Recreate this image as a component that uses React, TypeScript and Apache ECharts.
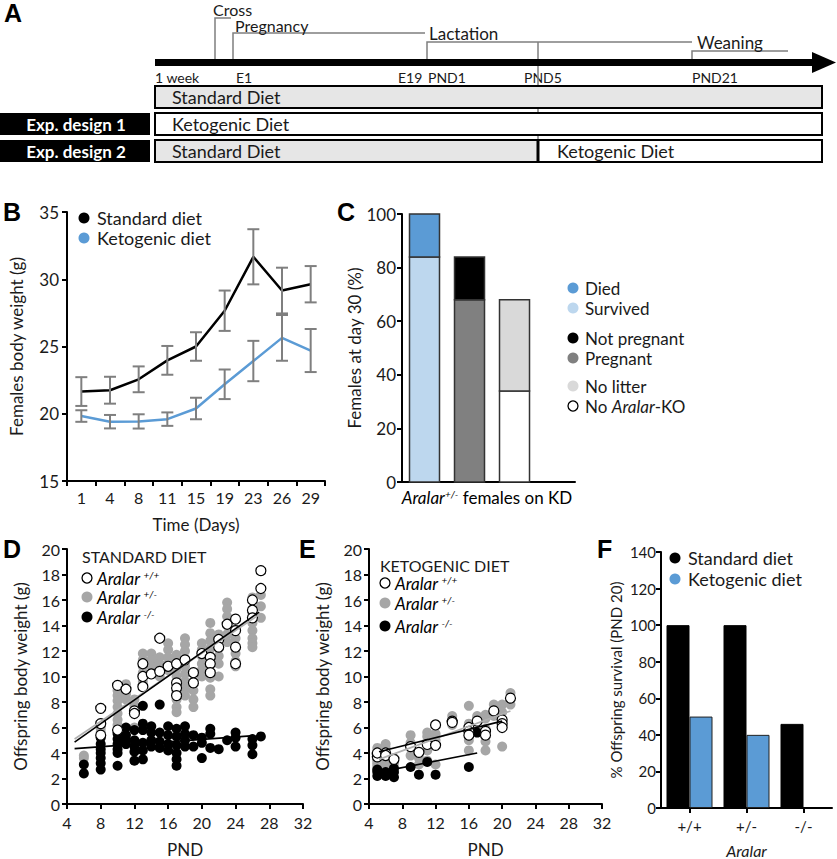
import React, { useEffect, useRef } from 'react';
import * as echarts from 'echarts';

// ---------- Panel B: female body weight ----------
const bDays = ['1', '4', '8', '11', '15', '19', '23', '26', '29'];
const bStdMean = [21.65, 21.75, 22.56, 23.97, 25.0, 27.66, 31.67, 29.16, 29.63];
const bStdErr = [1.07, 1.0, 0.96, 1.07, 1.06, 1.5, 2.05, 1.7, 1.35];
const bKdMean = [19.83, 19.41, 19.43, 19.6, 20.39, 22.19, 23.92, 25.64, 24.7];
const bKdErr = [0.43, 0.5, 0.53, 0.5, 0.8, 1.1, 1.5, 1.7, 1.6];

// ---------- Panel C: females at day 30 ----------
const cPositions = [0.5, 1.5, 2.5];
const cLower = [84, 68, 34]; // Survived, Pregnant, No Aralar-KO
const cUpper = [16, 16, 34]; // Died, Not pregnant, No litter

// ---------- Panel D: standard diet offspring ----------
const dWtDays = [8, 10, 11, 12, 13, 14, 15, 16, 17, 18, 19, 20, 21, 22, 23, 24, 26, 27];
const dWtWeights = [
  [7.5, 6.3, 5.4], [9.3, 5.8], [9.0], [7.3, 7.1], [11.0, 10.0, 9.2], [10.2], [13.0, 10.4], [10.8],
  [11.0, 9.5, 9.1, 8.5], [11.3], [10.3, 9.5], [11.8], [11.5, 11.0, 10.3], [12.9, 12.3], [14.1],
  [14.5, 13.6, 12.3, 11.0], [16.0, 15.2, 14.6], [18.3, 16.9],
];
const dHetDays = [6, 8, 10, 11, 12, 13, 14, 15, 16, 17, 18, 19, 20, 21, 22, 23, 24, 26, 27];
const dHetWeights = [
  [3.8, 3.6], [6.3, 5.9, 5.6], [8.9, 8.5, 8.1, 7.6, 7.1, 6.6, 6.2], [9.4, 9.0, 8.6, 8.2],
  [8.2, 7.7, 7.3, 6.0], [11.8, 11.3, 10.8, 10.3, 9.6], [11.8, 11.3, 10.8], [11.5, 11.0, 10.5, 10.0],
  [12.6, 12.1, 11.5, 11.0, 10.5], [11.7, 11.2, 10.6, 10.0, 9.4, 8.8, 8.2, 7.6, 7.2],
  [13.0, 12.5, 12.0, 11.4, 10.8, 10.2, 9.6, 9.0, 8.5], [9.6, 8.9, 8.2, 7.6],
  [12.6, 12.1, 11.6, 11.0, 10.5, 10.0], [14.2, 13.4, 12.8, 12.2, 11.6, 11.0, 10.4, 9.9, 9.0, 8.5],
  [13.3, 12.8, 12.2, 11.6, 11.0, 10.0], [15.8, 15.3, 14.7, 14.0, 13.3, 12.7],
  [13.7, 13.0, 12.4, 11.8, 11.2, 10.8], [16.2, 15.0, 14.2, 13.6, 13.0, 12.6, 12.3], [16.4, 15.5, 14.6],
];
const dKoDays = [6, 8, 10, 11, 12, 13, 14, 15, 16, 17, 18, 19, 20, 21, 22, 23, 24, 26, 27];
const dKoWeights = [
  [3.1, 2.4], [5.2, 4.7, 4.3, 4.0, 3.6, 3.2, 2.7], [5.5, 5.1, 4.7, 4.3, 4.0, 3.0], [6.0, 5.4, 5.0, 4.7],
  [5.8, 5.0, 4.5, 4.1, 3.4], [7.7, 6.3, 5.8, 4.8, 4.2, 3.5], [6.1, 5.6, 5.0, 4.5], [7.8, 5.6, 4.9, 4.4],
  [6.1, 5.4, 4.7, 4.2], [5.9, 5.3, 4.6, 4.0, 3.5, 3.0], [6.1, 5.5, 5.0, 4.5], [5.4, 4.5], [5.2, 4.8, 3.6],
  [5.9, 5.5, 4.4], [4.3], [5.0], [5.6, 5.2, 4.5], [5.1, 4.6, 3.9], [5.3],
];
const dWtFit = [[4.9, 4.85], [26.8, 15.05]];
const dHetFit = [[4.9, 5.1], [26.8, 14.85]];
const dKoFit = [[4.9, 4.34], [26.2, 5.36]];

// ---------- Panel E: ketogenic diet offspring ----------
const eWtDays = [5, 6, 7, 9, 10, 11, 12, 14, 16, 17, 18, 19, 20, 21];
const eWtWeights = [
  [3.9, 3.7, 4.0], [4.0, 3.8], [3.5], [4.5], [4.05], [4.67], [6.2, 4.6], [6.5, 6.4],
  [6.0, 5.7, 5.4], [6.5], [5.7, 5.4], [7.3], [6.6, 6.3, 6.0], [8.3],
];
const eHetDays = [5, 6, 7, 9, 10, 11, 12, 14, 16, 17, 18, 19, 20, 21];
const eHetWeights = [
  [2.6, 2.8, 3.0, 3.2, 3.4, 3.6, 3.8, 4.1, 4.4], [2.8, 3.0, 3.3, 3.6, 4.0, 4.4, 4.7], [3.2, 3.6],
  [3.8, 4.4, 4.8, 5.4], [3.1, 3.6], [5.6, 5.3, 4.9, 4.2, 3.4], [5.5, 5.0, 3.1], [6.9, 6.2],
  [7.7, 6.3, 5.9, 5.0, 4.2], [6.7, 6.9], [7.0, 6.7, 5.9, 4.9, 4.2], [7.8, 6.9], [7.8, 7.2, 4.5], [8.7, 7.8],
];
const eKoDays = [5, 6, 7, 9, 10, 11, 12, 16, 17];
const eKoWeights = [[2.2, 2.5, 2.7], [2.2, 2.5], [2.1, 2.5, 2.8], [2.9], [2.3], [3.3], [2.3], [2.9], [5.6]];
const eWtFit = [[5.2, 4.1], [20, 6.5]];
const eHetFit = [[5.2, 3.5], [21, 7.3]];
const eKoFit = [[5.2, 2.5], [17, 4.0]];

// ---------- Panel F: offspring survival ----------
const fGenotypes = ['+/+', '+/-', '-/-'];
const fStd = [100, 100, 46];
const fKd = [50, 40, null];

// ---------- Panel A: timeline labels ----------
const aStages = ['Cross', 'Pregnancy', 'Lactation', 'Weaning'];
const aTimeLabels = ['1 week', 'E1', 'E19', 'PND1', 'PND5', 'PND21'];

const FONT = 'Lato, "Open Sans", sans-serif';
const BLUE = '#5b9bd5';
const LBLUE = '#bdd7ee';
const GRAY = '#a6a6a6';
const TXT = '#1a1a1a';

const flatten = (days: number[], w: number[][]) => {
  const out: number[][] = [];
  days.forEach((d, i) => w[i].forEach((v) => out.push([d, v])));
  return out;
};

const axisLine = { show: true, lineStyle: { color: '#000', width: 2 } };
const axisTick = { show: true, length: 5, lineStyle: { color: '#000', width: 2 } };
const lbl = (fs: number) => ({ color: TXT, fontSize: fs, fontFamily: FONT });

function errSeries(mean: number[], err: number[]) {
  return {
    type: 'custom',
    xAxisIndex: 0,
    yAxisIndex: 0,
    z: 5,
    silent: true,
    renderItem: (_p: any, api: any) => {
      const x = api.value(0);
      const p1 = api.coord([x, api.value(1)]);
      const p2 = api.coord([x, api.value(2)]);
      const w = 6;
      const st = { stroke: '#7f7f7f', lineWidth: 2 };
      return {
        type: 'group',
        children: [
          { type: 'line', shape: { x1: p1[0], y1: p1[1], x2: p2[0], y2: p2[1] }, style: st },
          { type: 'line', shape: { x1: p1[0] - w, y1: p1[1], x2: p1[0] + w, y2: p1[1] }, style: st },
          { type: 'line', shape: { x1: p2[0] - w, y1: p2[1], x2: p2[0] + w, y2: p2[1] }, style: st },
        ],
      };
    },
    encode: { x: 0, y: [1, 2] },
    data: mean.map((m, i) => [i, m + err[i], m - err[i]]),
  };
}

// stacked segments drawn as rectangles through the axis scales
function stackSeries(lower: number[], upper: number[]) {
  const lowColors = [LBLUE, '#808080', '#fff'];
  const upColors = [BLUE, '#000', '#d9d9d9'];
  return {
    type: 'custom',
    xAxisIndex: 1,
    yAxisIndex: 1,
    silent: true,
    renderItem: (params: any, api: any) => {
      const i = params.dataIndex;
      const x = api.value(0);
      const base = api.coord([x, 0]);
      const mid = api.coord([x, api.value(1)]);
      const top = api.coord([x, api.value(2)]);
      const hw = 15;
      const st = { stroke: '#333', lineWidth: 1.5 };
      return {
        type: 'group',
        children: [
          { type: 'rect', shape: { x: base[0] - hw, y: mid[1], width: hw * 2, height: base[1] - mid[1] }, style: { ...st, fill: lowColors[i] } },
          { type: 'rect', shape: { x: base[0] - hw, y: top[1], width: hw * 2, height: mid[1] - top[1] }, style: { ...st, fill: upColors[i] } },
        ],
      };
    },
    encode: { x: 0, y: [1, 2] },
    data: cPositions.map((p, i) => [p, lower[i], lower[i] + upper[i]]),
  };
}

function scatter(data: number[][], idx: number, kind: 'wt' | 'het' | 'ko') {
  const style =
    kind === 'wt'
      ? { color: '#fff', borderColor: '#000', borderWidth: 1.2 }
      : kind === 'het'
      ? { color: GRAY, borderWidth: 0 }
      : { color: '#000', borderWidth: 0 };
  return {
    type: 'scatter',
    xAxisIndex: idx,
    yAxisIndex: idx,
    symbol: 'circle',
    symbolSize: 10,
    itemStyle: { ...style, opacity: 1 },
    data,
    silent: true,
  };
}

function fit(data: number[][], idx: number, color: string) {
  return {
    type: 'line',
    xAxisIndex: idx,
    yAxisIndex: idx,
    symbol: 'none',
    data,
    z: 4,
    lineStyle: { color, width: 1.6 },
    silent: true,
  };
}

const T = (text: string, x: number, y: number, fs: number, extra: any = {}) => ({
  type: 'text',
  style: {
    text,
    x,
    y,
    fontSize: fs,
    fontFamily: FONT,
    fill: TXT,
    textAlign: 'left',
    textVerticalAlign: 'middle',
    ...extra,
  },
});
const Dot = (cx: number, cy: number, fill: string, stroke?: string, r = 5.5) => ({
  type: 'circle',
  shape: { cx, cy, r },
  style: { fill, stroke: stroke || null, lineWidth: stroke ? 1.3 : 0 },
});
const aralarRich = {
  i: { fontStyle: 'italic', fontSize: 17, fontFamily: FONT, color: TXT },
  s: { fontStyle: 'italic', fontSize: 10, fontFamily: FONT, color: TXT, verticalAlign: 'top' },
};
const Aralar = (sup: string, x: number, y: number) => ({
  type: 'text',
  style: {
    text: `{i|Aralar} {s|${sup}}`,
    x,
    y,
    rich: aralarRich,
    textAlign: 'left',
    textVerticalAlign: 'middle',
  },
});
const line = (x1: number, y1: number, x2: number, y2: number, stroke = '#7f7f7f', lw = 1.5) => ({
  type: 'line',
  shape: { x1, y1, x2, y2 },
  style: { stroke, lineWidth: lw },
});
const poly = (points: number[][], stroke = '#7f7f7f', lw = 1.5) => ({
  type: 'polyline',
  shape: { points },
  style: { stroke, lineWidth: lw, fill: null },
});
const rect = (x: number, y: number, w: number, h: number, fill: string, stroke?: string, lw = 2) => ({
  type: 'rect',
  shape: { x, y, width: w, height: h },
  style: { fill, stroke: stroke || null, lineWidth: stroke ? lw : 0 },
});
const Letter = (t: string, x: number, y: number) =>
  T(t, x, y, 25, { fontWeight: 'bold', fontFamily: 'Arial, "Liberation Sans", sans-serif', fill: '#000' });

function buildGraphic() {
  const g: any[] = [];
  // Panel letters
  g.push(Letter('A', 4, 13), Letter('B', 3, 212), Letter('C', 337, 212), Letter('D', 3, 549), Letter('E', 299, 549), Letter('F', 597, 549));

  // ---- Panel A ----
  g.push(poly([[215, 60], [215, 18], [231, 18]]));
  g.push(poly([[233, 60], [233, 33], [425, 33]]));
  g.push(poly([[427, 60], [427, 42], [692, 42]]));
  g.push(line(538, 42, 538, 60));
  g.push(poly([[692, 60], [692, 51], [788, 51]]));
  g.push(T(aStages[0], 213, 9, 16));
  g.push(T(aStages[1], 235, 25, 16));
  g.push(T(aStages[2], 429, 33, 17));
  g.push(T(aStages[3], 697, 42, 17));
  g.push(rect(155, 59, 660, 7, '#000'));
  g.push({ type: 'polygon', shape: { points: [[812, 52], [836, 62.5], [812, 73]] }, style: { fill: '#000' } });
  const tx = [155, 236, 398, 428, 524, 692];
  aTimeLabels.forEach((t, i) => g.push(T(t, tx[i], 77, 14)));
  g.push(line(538, 66, 538, 87));
  g.push(line(538, 108, 538, 113));
  g.push(line(538, 134, 538, 140));
  g.push(rect(155, 86, 667, 22, '#e6e6e6', '#000'));
  g.push(T('Standard Diet', 172, 97, 18));
  g.push(rect(0, 113, 150, 22, '#000'));
  g.push(T('Exp. design 1', 76, 124, 17, { fill: '#fff', fontWeight: 'bold', textAlign: 'center' }));
  g.push(rect(155, 113, 667, 22, '#fff', '#000'));
  g.push(T('Ketogenic Diet', 172, 124, 18));
  g.push(rect(0, 140, 150, 22, '#000'));
  g.push(T('Exp. design 2', 76, 151, 17, { fill: '#fff', fontWeight: 'bold', textAlign: 'center' }));
  g.push(rect(155, 140, 383, 22, '#e6e6e6', '#000'));
  g.push(rect(538, 140, 284, 22, '#fff', '#000'));
  g.push(line(538, 140, 538, 162, '#000', 3));
  g.push(T('Standard Diet', 172, 151, 18));
  g.push(T('Ketogenic Diet', 557, 151, 18));

  // ---- Panel B legend ----
  g.push(Dot(84, 218, '#000'), T('Standard diet', 97, 218, 18));
  g.push(Dot(84, 238, BLUE), T('Ketogenic diet', 97, 238, 18));

  // ---- Panel C legend + label ----
  g.push(Dot(573, 288, BLUE), T('Died', 585, 288, 17));
  g.push(Dot(573, 308, LBLUE), T('Survived', 585, 308, 17));
  g.push(Dot(573, 338, '#000'), T('Not pregnant', 585, 338, 17));
  g.push(Dot(573, 358, '#808080'), T('Pregnant', 585, 358, 17));
  g.push(Dot(573, 386, '#d9d9d9'), T('No litter', 585, 386, 17));
  g.push(Dot(573, 406, '#fff', '#000', 5), {
    type: 'text',
    style: {
      text: 'No {i|Aralar}-KO',
      x: 585,
      y: 406,
      fontSize: 17,
      fontFamily: FONT,
      fill: TXT,
      rich: { i: { fontStyle: 'italic', fontSize: 17, fontFamily: FONT, color: TXT } },
      textVerticalAlign: 'middle',
    },
  });
  g.push({
    type: 'text',
    style: {
      text: '{i|Aralar}{s|+/-}{n| females on KD}',
      x: 487,
      y: 497,
      rich: {
        i: { fontStyle: 'italic', fontSize: 17, fontFamily: FONT, color: TXT },
        s: { fontStyle: 'italic', fontSize: 10, fontFamily: FONT, color: TXT, verticalAlign: 'top' },
        n: { fontSize: 17, fontFamily: FONT, color: TXT },
      },
      textAlign: 'center',
      textVerticalAlign: 'middle',
    },
  });

  // ---- Panel D legend ----
  g.push(T('STANDARD DIET', 82, 556, 16));
  g.push(Dot(87, 578, '#fff', '#000', 5), Aralar('+/+', 97, 578));
  g.push(Dot(87, 597, GRAY), Aralar('+/-', 97, 597));
  g.push(Dot(87, 617, '#000'), Aralar('-/-', 97, 617));

  // ---- Panel E legend ----
  g.push(T('KETOGENIC DIET', 380, 565, 16));
  g.push(Dot(385, 583, '#fff', '#000', 5), Aralar('+/+', 395, 583));
  g.push(Dot(385, 603, GRAY), Aralar('+/-', 395, 603));
  g.push(Dot(385, 626, '#000'), Aralar('-/-', 395, 626));

  // ---- Panel F legend ----
  g.push(Dot(675, 558, '#000'), T('Standard diet', 688, 558, 18));
  g.push(Dot(675, 579, BLUE), T('Ketogenic diet', 688, 579, 18));
  return g;
}

function buildOption(): any {
  const grids = [
    { left: 67, top: 212, width: 258, height: 269 }, // B
    { left: 402, top: 214, width: 173, height: 268 }, // C
    { left: 67, top: 549, width: 236, height: 262 }, // D
    { left: 369, top: 549, width: 233, height: 262 }, // E
    { left: 661, top: 552, width: 171, height: 260 }, // F
  ];
  const nameStyle = (fs: number, extra: any = {}) => ({ color: TXT, fontSize: fs, fontFamily: FONT, ...extra });
  const xAxis = [
    {
      gridIndex: 0, type: 'category', data: bDays, boundaryGap: true, axisLine, axisTick: { ...axisTick, interval: 0 },
      axisLabel: { ...lbl(16), margin: 8 }, name: 'Time (Days)', nameLocation: 'middle', nameGap: 35, nameTextStyle: nameStyle(17),
    },
    {
      gridIndex: 1, type: 'value', min: 0, max: 3.844, axisLine, axisTick: { show: false }, axisLabel: { show: false }, splitLine: { show: false },
    },
    {
      gridIndex: 2, type: 'value', min: 4, max: 32, interval: 4, axisLine, axisTick, axisLabel: { ...lbl(16), margin: 10 },
      splitLine: { show: false }, name: 'PND', nameLocation: 'middle', nameGap: 37, nameTextStyle: nameStyle(17),
    },
    {
      gridIndex: 3, type: 'value', min: 4, max: 32, interval: 4, axisLine, axisTick, axisLabel: { ...lbl(16), margin: 10 },
      splitLine: { show: false }, name: 'PND', nameLocation: 'middle', nameGap: 37, nameTextStyle: nameStyle(17),
    },
    {
      gridIndex: 4, type: 'category', data: fGenotypes, axisLine, axisTick: { ...axisTick, alignWithLabel: true },
      axisLabel: { ...lbl(15), margin: 10 }, name: 'Aralar', nameLocation: 'middle', nameGap: 34, nameTextStyle: nameStyle(16, { fontStyle: 'italic' }),
    },
  ];
  const yAxis = [
    {
      gridIndex: 0, type: 'value', min: 15, max: 35, interval: 5, axisLine, axisTick, axisLabel: { ...lbl(17), margin: 8 },
      splitLine: { show: false }, name: 'Females body weight (g)', nameLocation: 'middle', nameGap: 42, nameTextStyle: nameStyle(17),
    },
    {
      gridIndex: 1, type: 'value', min: 0, max: 100, interval: 20, axisLine, axisTick, axisLabel: { ...lbl(17), margin: 6 },
      splitLine: { show: false }, name: 'Females at day 30 (%)', nameLocation: 'middle', nameGap: 38, nameTextStyle: nameStyle(17),
    },
    {
      gridIndex: 2, type: 'value', min: 0, max: 20, interval: 2, axisLine, axisTick, axisLabel: { ...lbl(16), margin: 7 },
      splitLine: { show: false }, name: 'Offspring body weight (g)', nameLocation: 'middle', nameGap: 38, nameTextStyle: nameStyle(17),
    },
    {
      gridIndex: 3, type: 'value', min: 0, max: 20, interval: 2, axisLine, axisTick, axisLabel: { ...lbl(16), margin: 7 },
      splitLine: { show: false }, name: 'Offspring body weight (g)', nameLocation: 'middle', nameGap: 38, nameTextStyle: nameStyle(17),
    },
    {
      gridIndex: 4, type: 'value', min: 0, max: 140, interval: 20, axisLine, axisTick, axisLabel: { ...lbl(15), margin: 5 },
      splitLine: { show: false }, name: '% Offspring survival (PND 20)', nameLocation: 'middle', nameGap: 38, nameTextStyle: nameStyle(15),
    },
  ];
  const series: any[] = [
    // B
    { type: 'line', xAxisIndex: 0, yAxisIndex: 0, data: bStdMean, symbol: 'none', lineStyle: { color: '#000', width: 2.5 }, z: 3 },
    { type: 'line', xAxisIndex: 0, yAxisIndex: 0, data: bKdMean, symbol: 'none', lineStyle: { color: BLUE, width: 2.5 }, z: 3 },
    errSeries(bStdMean, bStdErr),
    errSeries(bKdMean, bKdErr),
    // C
    stackSeries(cLower, cUpper),
    // D
    scatter(flatten(dHetDays, dHetWeights), 2, 'het'),
    scatter(flatten(dKoDays, dKoWeights), 2, 'ko'),
    scatter(flatten(dWtDays, dWtWeights), 2, 'wt'),
    fit(dHetFit, 2, '#b0b0b0'),
    fit(dWtFit, 2, '#000'),
    fit(dKoFit, 2, '#000'),
    // E
    scatter(flatten(eHetDays, eHetWeights), 3, 'het'),
    scatter(flatten(eKoDays, eKoWeights), 3, 'ko'),
    scatter(flatten(eWtDays, eWtWeights), 3, 'wt'),
    fit(eHetFit, 3, '#b0b0b0'),
    fit(eWtFit, 3, '#000'),
    fit(eKoFit, 3, '#000'),
    // F
    {
      type: 'bar', xAxisIndex: 4, yAxisIndex: 4, data: fStd, barWidth: 23, barGap: '0%',
      itemStyle: { color: '#000', borderColor: '#000', borderWidth: 1 },
    },
    {
      type: 'bar', xAxisIndex: 4, yAxisIndex: 4, data: fKd.map((v) => (v == null ? '-' : v)), barWidth: 23, barGap: '0%',
      itemStyle: { color: BLUE, borderColor: '#222', borderWidth: 1 },
    },
  ];
  return {
    animation: false,
    backgroundColor: '#fff',
    textStyle: { fontFamily: FONT },
    grid: grids,
    xAxis,
    yAxis,
    series,
    graphic: { elements: buildGraphic() },
  };
}

export default function App() {
  const ref = useRef<HTMLDivElement>(null);
  useEffect(() => {
    if (!ref.current) return;
    const chart = echarts.init(ref.current, undefined, { renderer: 'svg' });
    chart.setOption(buildOption());
    return () => chart.dispose();
  }, []);
  return <div ref={ref} style={{ position: 'absolute', left: 0, top: 0, width: 837, height: 859, background: '#fff' }} />;
}
